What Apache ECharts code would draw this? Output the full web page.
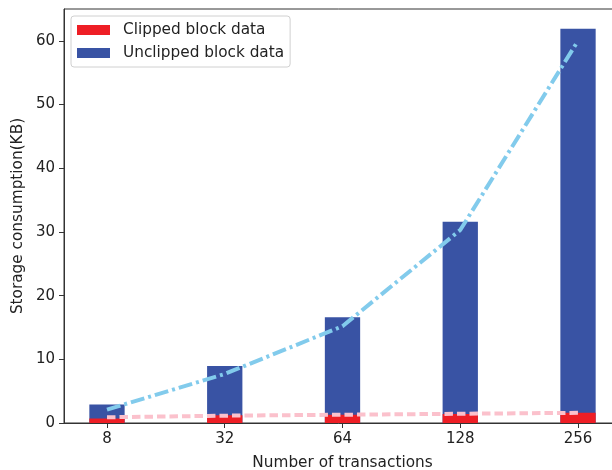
<!DOCTYPE html>
<html>
<head>
<meta charset="utf-8">
<script src="https://cdn.jsdelivr.net/npm/echarts@6/dist/echarts.min.js"></script>
<style>
html,body{margin:0;padding:0;background:#fff;}
#c{width:612px;height:470px;}
</style>
</head>
<body>
<div id="c"></div>
<script>
var categories = ['8', '32', '64', '128', '256'];
var clippedData = [0.7, 1.2, 1.3, 1.4, 1.6];
var unclippedData = [2.9, 8.95, 16.6, 31.6, 61.9];
var unclippedTrend = [2.1, 7.7, 15.2, 30.3, 60.0];
var clippedTrend = [0.9, 1.15, 1.3, 1.45, 1.6];
var yTicks = [0, 10, 20, 30, 40, 50, 60];

function pts(arr) { return arr.map(function (v, i) { return [i, v]; }); }
var xIdx = categories.map(function (c, i) { return i; });

var FONT = 'DejaVu Sans';
var TXT = '#222';
var chart = echarts.init(document.getElementById('c'), null, {renderer: 'canvas'});
chart.setOption({
  animation: false,
  backgroundColor: '#fff',
  textStyle: {fontFamily: FONT},
  grid: {left: 64, top: 9, right: -9, bottom: 47, show: true, borderColor: '#333', borderWidth: 1,
    containLabel: false, outerBoundsMode: 'none'},
  legend: {
    data: ['Clipped block data', 'Unclipped block data'],
    orient: 'vertical', left: 71, top: 16,
    itemWidth: 33, itemHeight: 10, itemGap: 7,
    padding: [6, 6, 6, 6],
    borderColor: '#d0d0d0', borderWidth: 1, borderRadius: 3,
    backgroundColor: 'rgba(255,255,255,0.8)',
    icon: 'rect',
    textStyle: {fontFamily: FONT, fontSize: 15.3, lineHeight: 16, color: TXT, padding: [0, 0, 0, 8]}
  },
  xAxis: {
    type: 'value', min: -0.365, max: 4.365,
    name: 'Number of transactions', nameLocation: 'middle', nameGap: 33, nameMoveOverlap: false,
    nameTextStyle: {fontFamily: FONT, fontSize: 15.3, color: TXT},
    axisLine: {show: true, onZero: false, lineStyle: {color: '#333', width: 1}},
    axisTick: {show: true, length: 5, lineStyle: {color: '#333'}, customValues: xIdx},
    axisLabel: {fontFamily: FONT, fontSize: 15, color: TXT, margin: 9, customValues: xIdx,
      formatter: function (v) { return categories[Math.round(v)]; }},
    splitLine: {show: false}
  },
  yAxis: {
    type: 'value', min: 0, max: 65, interval: 10,
    name: 'Storage consumption(KB)', nameLocation: 'middle', nameGap: 38, nameMoveOverlap: false,
    nameTextStyle: {fontFamily: FONT, fontSize: 15.3, color: TXT},
    axisLine: {show: true, onZero: false, lineStyle: {color: '#333', width: 1}},
    axisTick: {show: true, length: 5, lineStyle: {color: '#333'}, customValues: yTicks},
    axisLabel: {fontFamily: FONT, fontSize: 15, color: TXT, margin: 9, customValues: yTicks},
    splitLine: {show: false}
  },
  series: [
    {name: 'Unclipped block data', type: 'bar', data: pts(unclippedData), barWidth: 35.3,
      itemStyle: {color: '#3953A4'}, z: 2},
    {name: 'Clipped block data', type: 'bar', data: pts(clippedData), barWidth: 35.3, barGap: '-100%',
      itemStyle: {color: '#EE1E25'}, z: 3},
    {name: 'trendU', type: 'line', data: pts(unclippedTrend), symbol: 'none', z: 5,
      lineStyle: {color: '#82CBEC', width: 4, type: [14, 4, 3, 4], cap: 'butt'}},
    {name: 'trendC', type: 'line', data: pts(clippedTrend), symbol: 'none', z: 5,
      lineStyle: {color: '#FBC1CC', width: 4, type: [8.5, 4], cap: 'butt'}}
  ]
});
</script>
</body>
</html>
